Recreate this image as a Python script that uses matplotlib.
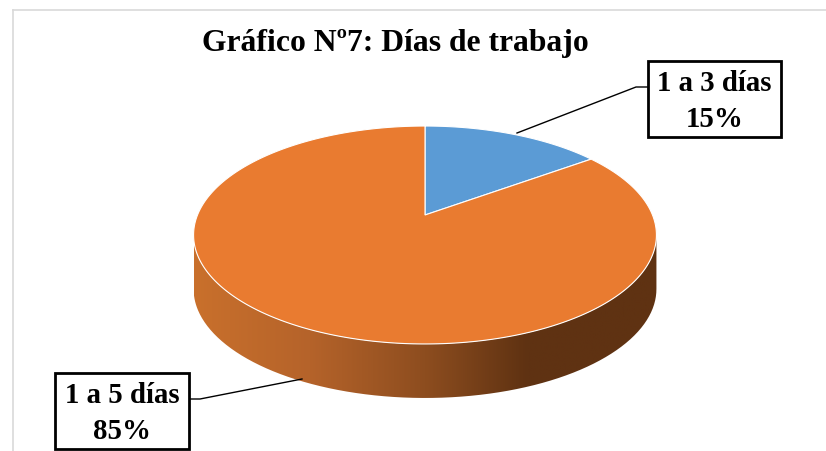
# coding: utf-8
import numpy as np
import matplotlib
matplotlib.use('Agg')
from matplotlib import pyplot as plt
from matplotlib.colors import LinearSegmentedColormap
from matplotlib.patches import PathPatch, Polygon, Rectangle
from matplotlib.path import Path

title = 'Gráfico Nº7: Días de trabajo'
categories = ['1 a 3 días', '1 a 5 días']
shares = [15, 85]
colors = ['#5B9BD5', '#E97B30']

# pie geometry in pixels of the image
apex_x, apex_y = 425, 215
depth = 54
scale_x, scale_y = 227.5, 105.3
tilt = 0.1835

plt.rcParams['font.family'] = ['Liberation Serif', 'DejaVu Serif']


def project(theta, r=1.0):
    """theta clockwise from the top of the pie, perspective like the 3D pie"""
    x = r * np.sin(theta)
    y = r * np.cos(theta)
    w = 1 + tilt * y
    return apex_x + scale_x * x / w, apex_y - scale_y * y / w


fig = plt.figure(figsize=(8.26, 4.51), dpi=100)
ax = fig.add_axes([0, 0, 1, 1])
ax.set_xlim(0, 826)
ax.set_ylim(451, 0)
ax.axis('off')

# frame of the chart, only top and left show
ax.plot([13, 826], [9.5, 9.5], color='#D9D9D9', lw=1.2)
ax.plot([13, 13], [9.5, 451], color='#D9D9D9', lw=1.2)

# side wall: outer rim of the whole disc, pushed down by depth
theta = np.linspace(0, 2 * np.pi, 721)
rx, ry = project(theta)
left = np.argmin(rx)
right = np.argmax(rx)
front = theta[right:left + 1]
fx, fy = project(front)
wall = np.column_stack([np.r_[fx, fx[::-1]], np.r_[fy, fy[::-1] + depth]])
wall_patch = PathPatch(Path(wall), fc='none', ec='none')
ax.add_patch(wall_patch)
wall_cmap = LinearSegmentedColormap.from_list('wall', [
    (0.0, '#C9702C'), (0.25, '#B5632A'), (0.5, '#8D4D1F'),
    (0.72, '#5F3212'), (1.0, '#5F3212')])
img = ax.imshow(np.linspace(0, 1, 256).reshape(1, -1), cmap=wall_cmap, aspect='auto',
                extent=[rx.min(), rx.max(), ry.max() + depth, ry.min()], zorder=1)
img.set_clip_path(wall_patch)
ax.set_xlim(0, 826)
ax.set_ylim(451, 0)

# top of the pie
start = 0
for share, color in zip(shares, colors):
    end = start + share / sum(shares) * 2 * np.pi
    a = np.linspace(start, end, 361)
    sx, sy = project(a)
    ax.add_patch(Polygon(np.column_stack([np.r_[apex_x, sx], np.r_[apex_y, sy]]),
                         closed=True, fc=color, ec='white', lw=0.8, zorder=2))
    start = end

# labels with leader lines
ax.text(395, 44, title, fontsize=22.8, fontweight='bold', ha='center', va='center')

boxes = [(648, 61, 133, 76), (55, 373, 134, 76)]
leaders = [([517, 636, 648], [133, 87, 87]), ([302, 200, 189], [379, 399, 399])]
for name, share, box, line in zip(categories, shares, boxes, leaders):
    ax.plot(line[0], line[1], color='black', lw=1.0, zorder=3)
    ax.add_patch(Rectangle(box[:2], box[2], box[3], fc='white', ec='black', lw=2.0, zorder=4))
    ax.text(box[0] + box[2] / 2, box[1] + box[3] / 2 + 2.5, '%s\n%d%%' % (name, share),
            fontsize=20.8, fontweight='bold', ha='center', va='center',
            linespacing=1.4, zorder=5)

plt.savefig('out.png', dpi=100)
